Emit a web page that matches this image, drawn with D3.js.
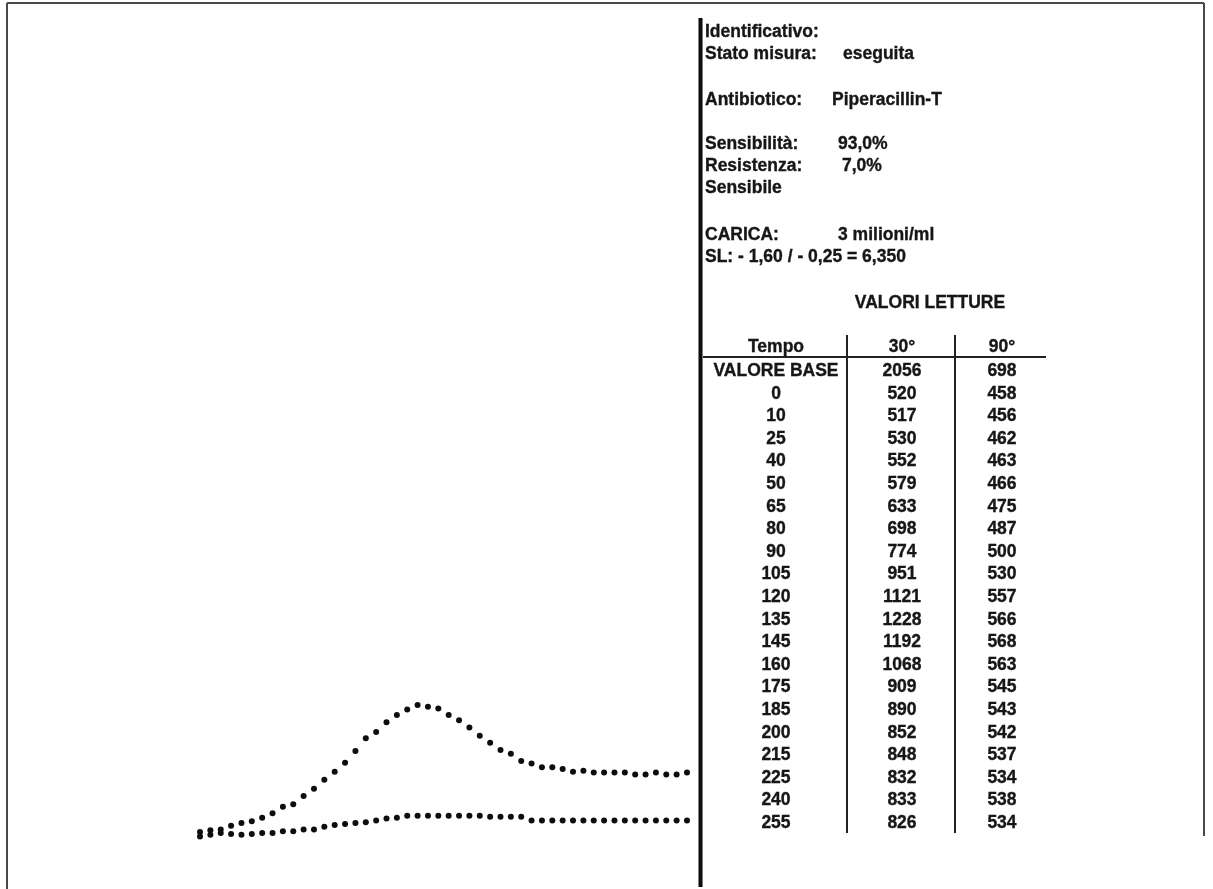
<!DOCTYPE html>
<html>
<head>
<meta charset="utf-8">
<script src="https://cdn.jsdelivr.net/npm/d3@7/dist/d3.min.js"></script>
<style>
  html, body { margin: 0; padding: 0; background: #fff; }
  svg { display: block; }
  text { font-family: "Liberation Sans", Arial, sans-serif; font-weight: bold; fill: #161616;
         stroke: #161616; stroke-width: 0.35; }
</style>
</head>
<body>
<svg id="chart" width="1213" height="889"></svg>
<script>
// Kinetic readings, drawn as dotted traces (reading change from the start, per sample)
const samples = d3.range(48);
const trace30 = [5, 15, 20, 40, 55, 65, 85, 110, 145, 160, 205, 245, 295, 340, 390, 455,
  525, 560, 615, 655, 685, 710, 700, 690, 655, 625, 585, 540, 500, 460, 440, 400,
  385, 365, 365, 355, 340, 345, 335, 335, 335, 335, 325, 325, 335, 325, 325, 335];
const trace90 = [-20, -10, 0, -5, -10, -5, 0, 0, 10, 10, 20, 20, 35, 45, 50, 55,
  60, 70, 80, 85, 95, 95, 95, 95, 95, 95, 95, 95, 90, 90, 90, 90,
  70, 70, 70, 70, 70, 70, 70, 70, 70, 70, 70, 70, 70, 70, 70, 70];

// Report header
const infoLabels = ["Identificativo:", "Stato misura:", "Antibiotico:", "Sensibilità:", "Resistenza:", "Sensibile", "CARICA:", "SL: - 1,60 / - 0,25 = 6,350"];
const infoValues = ["", "eseguita", "Piperacillin-T", "93,0%", "7,0%", "", "3 milioni/ml", ""];

// Readings table
const tableTitle = "VALORI LETTURE";
const columns = ["Tempo", "30°", "90°"];
const tempo = ["VALORE BASE", "0", "10", "25", "40", "50", "65", "80", "90", "105", "120", "135", "145", "160", "175", "185", "200", "215", "225", "240", "255"];
const val30 = [2056, 520, 517, 530, 552, 579, 633, 698, 774, 951, 1121, 1228, 1192, 1068, 909, 890, 852, 848, 832, 833, 826];
const val90 = [698, 458, 456, 462, 463, 466, 475, 487, 500, 530, 557, 566, 568, 563, 545, 543, 542, 537, 534, 538, 534];

const svg = d3.select("#chart");

const defs = svg.append("defs");
defs.append("filter").attr("id", "soft")
  .attr("x", "-5%").attr("y", "-5%").attr("width", "110%").attr("height", "110%")
  .append("feGaussianBlur").attr("stdDeviation", 0.45);

const root = svg.append("g").attr("filter", "url(#soft)");

// Frame
const frame = root.append("g").attr("stroke", "#4a4a4a").attr("stroke-width", 2).attr("fill", "none");
frame.append("line").attr("x1", 7).attr("y1", 3).attr("x2", 1204).attr("y2", 3);
frame.append("line").attr("x1", 7).attr("y1", 3).attr("x2", 7).attr("y2", 889);
frame.append("line").attr("x1", 1204).attr("y1", 3).attr("x2", 1204).attr("y2", 836);

// Dotted traces
const x = d3.scaleLinear().domain([0, 47]).range([200, 687]);
const y = d3.scaleLinear().domain([0, 710]).range([833, 705]);

const series = [
  { name: "30°", values: trace30 },
  { name: "90°", values: trace90 }
];
root.selectAll("g.trace").data(series).join("g").attr("class", "trace")
  .selectAll("circle").data(d => d.values.map((v, i) => ({ i: samples[i], v })))
  .join("circle")
  .attr("cx", d => x(d.i))
  .attr("cy", d => y(d.v))
  .attr("r", 3)
  .attr("fill", "#111");

// Divider between graph and report
root.append("line").attr("x1", 700.5).attr("y1", 18).attr("x2", 700.5).attr("y2", 887)
  .attr("stroke", "#0a0a0a").attr("stroke-width", 4);

// Report header lines
const infoY = [37, 59, 105, 149, 171, 193, 240, 262];
const valueX = [0, 843, 832, 838, 842, 0, 838, 0];
const info = root.append("g").attr("font-size", 17.5);
info.selectAll("text.lbl").data(infoLabels).join("text").attr("class", "lbl")
  .attr("x", 705).attr("y", (d, i) => infoY[i]).text(d => d);
info.selectAll("text.val")
  .data(infoValues.map((v, i) => ({ v, i })).filter(d => d.v !== ""))
  .join("text").attr("class", "val")
  .attr("x", d => valueX[d.i])
  .attr("y", d => infoY[d.i])
  .text(d => d.v);

// Table
const table = root.append("g").attr("font-size", 17.5).attr("text-anchor", "middle");
table.append("text").attr("x", 930).attr("y", 308).text(tableTitle);

const colX = d3.scaleOrdinal().domain(columns).range([776, 902, 1002]);
const rowY = d3.scaleLinear().domain([0, tempo.length - 1]).range([376, 828]);

table.selectAll("text.hdr").data(columns).join("text").attr("class", "hdr")
  .attr("x", d => colX(d)).attr("y", 352).text(d => d);

table.append("line").attr("x1", 703).attr("x2", 1046).attr("y1", 357).attr("y2", 357)
  .attr("stroke", "#222").attr("stroke-width", 2);
[847, 955].forEach(cx => {
  table.append("line").attr("x1", cx).attr("x2", cx).attr("y1", 335).attr("y2", 833)
    .attr("stroke", "#222").attr("stroke-width", 2);
});

const rows = tempo.map((t, i) => ({ i, cells: [t, val30[i], val90[i]] }));
table.selectAll("g.row").data(rows).join("g").attr("class", "row")
  .attr("transform", d => `translate(0,${rowY(d.i)})`)
  .selectAll("text").data(d => d.cells.map((v, j) => ({ v, col: columns[j] })))
  .join("text")
  .attr("x", d => colX(d.col))
  .attr("y", 0)
  .text(d => d.v);
</script>
</body>
</html>
